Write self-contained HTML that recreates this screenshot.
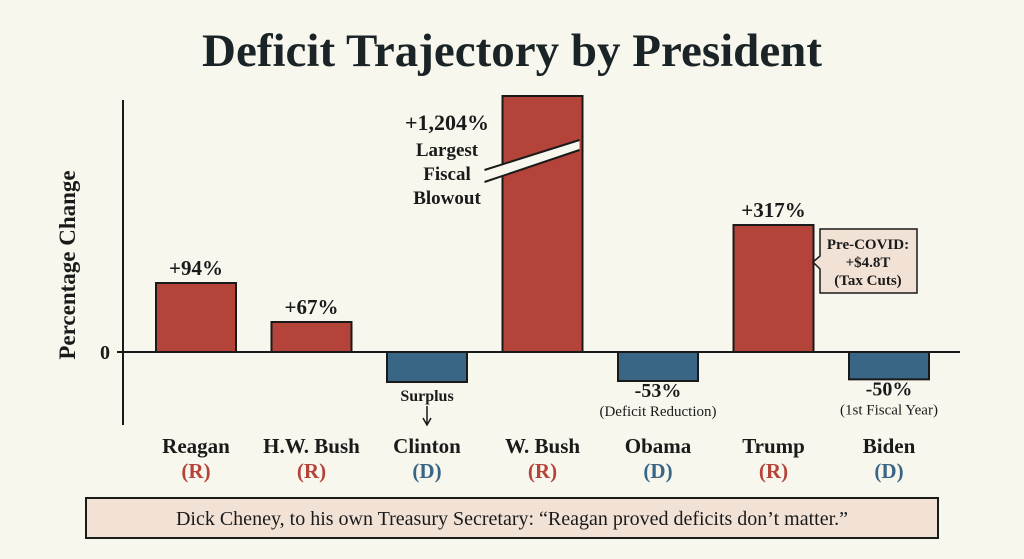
<!DOCTYPE html>
<html><head><meta charset="utf-8"><style>
body{margin:0;background:#f8f7ee;}
svg{display:block;font-family:"Liberation Serif",serif;}
</style></head><body>
<svg id="c" width="1024" height="559" viewBox="0 0 1024 559">
<rect width="1024" height="559" fill="#f8f7ee"/>
<text x="512" y="66" text-anchor="middle" font-size="47" font-weight="bold" fill="#1a2326">Deficit Trajectory by President</text>
<text transform="translate(75,265) rotate(-90)" text-anchor="middle" font-size="23" font-weight="bold" fill="#1a1a1a">Percentage Change</text>
<line x1="123" y1="100" x2="123" y2="425" stroke="#1a1a1a" stroke-width="2"/>
<text x="105" y="359" text-anchor="middle" font-size="20" font-weight="bold" fill="#1a1a1a">0</text>
<g id="bars"></g>
<line x1="117" y1="352" x2="960" y2="352" stroke="#1a1a1a" stroke-width="2"/>
<g id="labels"></g>
<rect x="86" y="498" width="852" height="40" fill="#f2e2d6" stroke="#1a1a1a" stroke-width="2"/>
<text x="512" y="525" text-anchor="middle" font-size="20" fill="#1a1a1a">Dick Cheney, to his own Treasury Secretary: “Reagan proved deficits don’t matter.”</text>
</svg>
<script>
const presidents=["Reagan","H.W. Bush","Clinton","W. Bush","Obama","Trump","Biden"];
const parties=["R","R","D","R","D","R","D"];
const values=[94,67,-55,1204,-53,317,-50];
const valueLabels=["+94%","+67%","","+1,204%","-53%","+317%","-50%"];
const notes=["","","","","(Deficit Reduction)","","(1st Fiscal Year)"];
// stylized (non-linear, broken) axis scale knots
const posKnots=[0,67,94,317,1204];
const posPx=[0,30,69,127,256];
const Y0=352;
function yScale(v){
  if(v<0) return Math.min(Y0+30, Y0+(-v)*29/53);
  for(let i=1;i<posKnots.length;i++){
    if(v<=posKnots[i]){const t=(v-posKnots[i-1])/(posKnots[i]-posKnots[i-1]);return Y0-(posPx[i-1]+t*(posPx[i]-posPx[i-1]));}
  }
  return Y0-posPx[posPx.length-1];
}
function xCenter(i){return 196+i*115.5;}
const NS="http://www.w3.org/2000/svg";
const bars=document.getElementById('bars'),labels=document.getElementById('labels');
function mk(tag,attrs,parent,txt){const e=document.createElementNS(NS,tag);for(const k in attrs)e.setAttribute(k,attrs[k]);if(txt!==undefined)e.textContent=txt;parent.appendChild(e);return e;}
presidents.forEach((p,i)=>{
  const v=values[i],cx=xCenter(i),y=yScale(v);
  const col=parties[i]==="R"?"#b4443a":"#3a6686";
  const r=mk('rect',{x:cx-40,y:Math.min(y,Y0),width:80,height:Math.abs(Y0-y),fill:col,stroke:"#1a1a1a","stroke-width":2},bars);
  
  
  const n=mk('text',{x:cx,y:453,"text-anchor":"middle","font-size":21,"font-weight":"bold",fill:"#1a1a1a"},labels,p);
  
  
  const pt=mk('text',{x:cx,y:478,"text-anchor":"middle","font-size":21,"font-weight":"bold",fill:col},labels,"("+parties[i]+")");
  
  
  if(v>=0 && i!==3){
    const t=mk('text',{x:cx,y:y-8,"text-anchor":"middle","font-size":21,"font-weight":"bold",fill:"#1a1a1a"},labels,valueLabels[i]);
    
    
  } else if(v<0 && valueLabels[i]){
    const t=mk('text',{x:cx,y:y+16,"text-anchor":"middle","font-size":20,"font-weight":"bold",fill:"#1a1a1a"},labels,valueLabels[i]);
    
    
    const s=mk('text',{x:cx,y:y+35,"text-anchor":"middle","font-size":15,fill:"#1a1a1a"},labels,notes[i]);
    
    
  }
});
(function(){const cx=xCenter(2);
const t=mk('text',{x:cx,y:401,"text-anchor":"middle","font-size":16,"font-weight":"bold",fill:"#1a1a1a"},labels,"Surplus");

const a=mk('path',{d:`M${cx} 406 V424 M${cx-4} 418 L${cx} 425 L${cx+4} 418`,stroke:"#1a1a1a","stroke-width":1.5,fill:"none"},labels);
})();
(function(){const cx=xCenter(3);
const b=mk('polygon',{points:`${cx-58},170 ${cx+37},140 ${cx+37},150 ${cx-58},182`,fill:"#f8f7ee",stroke:"none"},labels);

const l1=mk('line',{x1:cx-58,y1:170,x2:cx+37,y2:140,stroke:"#1a1a1a","stroke-width":2},labels);

const l2=mk('line',{x1:cx-58,y1:182,x2:cx+37,y2:150,stroke:"#1a1a1a","stroke-width":2},labels);

[["+1,204%",130,22],["Largest",156,19],["Fiscal",180,19],["Blowout",204,19]].forEach(([s,y,f],k)=>{
 const t=mk('text',{x:447,y:y,"text-anchor":"middle","font-size":f,"font-weight":"bold",fill:"#1a1a1a"},labels,s);
 
 });})();
(function(){
const p=mk('path',{d:"M820 229 H917 V293 H820 V269 L813 262 L820 256 Z",fill:"#f2e2d6",stroke:"#1a1a1a","stroke-width":1.5},labels);

[["Pre-COVID:",249],["+$4.8T",267],["(Tax Cuts)",285]].forEach(([s,y])=>{
 const t=mk('text',{x:868,y:y,"text-anchor":"middle","font-size":15,"font-weight":"bold",fill:"#1a1a1a"},labels,s);
 });})();
</script>
</body></html>
